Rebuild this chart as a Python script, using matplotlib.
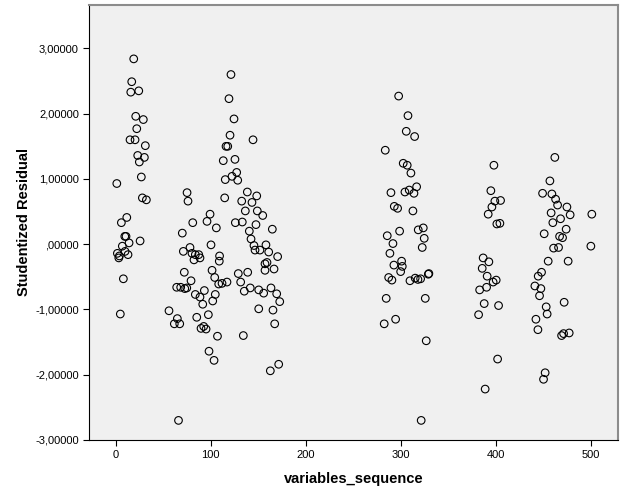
import matplotlib
matplotlib.use("Agg")
import matplotlib.pyplot as plt
from matplotlib.ticker import FuncFormatter

# sequence number of each variable and its studentized residual
seq_a = [18.9, 16.8, 15.8, 24.2, 21.0, 29.0, 22.1, 15.0, 20.3, 31.1, 23.1, 30.1,
         24.8, 26.9, 1.1, 28.0, 32.2, 11.6, 5.9, 9.5, 10.8, 25.6, 6.9, 14.0,
         1.7, 3.8, 3.2, 9.8, 12.9, 8.0, 4.8]
res_a = [2.84, 2.49, 2.33, 2.35, 1.96, 1.91, 1.77, 1.60, 1.60, 1.51, 1.36, 1.33,
         1.26, 1.03, 0.93, 0.71, 0.68, 0.41, 0.33, 0.12, 0.12, 0.05, -0.03, 0.02,
         -0.14, -0.18, -0.21, -0.11, -0.16, -0.53, -1.07]

seq_b = [75.0, 76.0, 99.2, 96.0, 105.8, 81.0, 70.0, 100.2, 78.1, 71.1, 80.2, 83.7,
         87.3, 82.3, 88.6, 109.2, 108.9, 72.1, 79.2, 101.3, 104.1, 108.3, 64.1, 68.3,
         72.6, 74.7, 83.7, 88.6, 93.2, 91.5, 104.7, 102.0, 56.0, 64.8, 61.6, 67.3,
         85.2, 97.4, 89.7, 92.5, 95.0, 107.0, 98.1, 103.4, 66.0,
         121.2, 119.1, 124.4, 120.2, 116.0, 117.8, 144.4, 113.1, 125.4, 127.2, 122.3,
         115.2, 128.3, 114.6, 138.4, 148.3, 132.5, 143.3, 136.3, 148.9, 154.6, 125.8,
         133.1, 147.5, 164.7, 140.5, 142.3, 145.4, 146.5, 151.7, 158.0, 160.9, 170.3,
         128.9, 138.8, 131.4, 157.0, 159.1, 157.0, 166.5, 111.8, 117.0, 135.2, 141.5,
         150.4, 155.6, 163.3, 169.3, 172.5, 134.2, 150.4, 165.4, 167.2, 162.6, 171.4]
res_b = [0.79, 0.66, 0.46, 0.35, 0.25, 0.33, 0.17, -0.01, -0.05, -0.11, -0.14, -0.16,
         -0.16, -0.24, -0.21, -0.18, -0.26, -0.43, -0.56, -0.40, -0.51, -0.61, -0.66, -0.66,
         -0.68, -0.67, -0.77, -0.81, -0.71, -0.92, -0.77, -0.87, -1.02, -1.14, -1.22, -1.22,
         -1.12, -1.08, -1.29, -1.26, -1.30, -1.41, -1.64, -1.78, -2.70,
         2.60, 2.23, 1.92, 1.67, 1.50, 1.50, 1.60, 1.28, 1.30, 1.10, 1.04,
         0.99, 0.98, 0.71, 0.80, 0.74, 0.66, 0.64, 0.51, 0.51, 0.44, 0.33,
         0.34, 0.30, 0.23, 0.20, 0.08, -0.02, -0.09, -0.09, -0.01, -0.12, -0.19,
         -0.45, -0.43, -0.58, -0.30, -0.28, -0.40, -0.38, -0.60, -0.58, -0.72, -0.67,
         -0.70, -0.75, -0.67, -0.76, -0.88, -1.40, -0.99, -1.01, -1.22, -1.94, -1.84]

seq_c = [297.6, 307.4, 305.6, 314.4, 283.5, 302.4, 306.6, 310.5, 289.5, 304.2, 308.7,
         316.5, 313.7, 293.0, 296.5, 312.6, 298.6, 318.2, 323.5, 285.6, 291.6, 324.5,
         322.4, 288.4, 300.7, 301.4, 292.6, 299.7, 287.1, 290.5, 309.5, 315.0, 317.9,
         320.7, 328.8, 329.4, 284.5, 325.6, 282.4, 294.4, 326.6, 321.3]
res_c = [2.27, 1.97, 1.73, 1.65, 1.44, 1.24, 1.21, 1.09, 0.79, 0.80, 0.83,
         0.88, 0.78, 0.58, 0.55, 0.51, 0.20, 0.22, 0.25, 0.13, 0.01, 0.09,
         -0.05, -0.14, -0.26, -0.34, -0.32, -0.42, -0.51, -0.55, -0.56, -0.52, -0.54,
         -0.53, -0.46, -0.45, -0.83, -0.83, -1.22, -1.15, -1.48, -2.70]

seq_d = [397.8, 394.6, 398.8, 404.8, 395.7, 391.8, 400.9, 404.1, 386.5, 392.5, 385.5,
         390.7, 397.0, 400.2, 382.8, 390.1, 387.6, 402.7, 381.7, 401.7, 388.6]
res_d = [1.21, 0.82, 0.66, 0.67, 0.57, 0.46, 0.31, 0.32, -0.21, -0.27, -0.37,
         -0.49, -0.58, -0.55, -0.70, -0.66, -0.91, -0.94, -1.08, -1.76, -2.22]

seq_e = [461.9, 456.7, 449.0, 458.8, 462.7, 464.8, 474.6, 478.0, 467.9, 458.0, 459.8,
         473.8, 450.7, 466.9, 470.0, 460.6, 465.8, 454.9, 475.9, 447.9, 444.4, 440.9,
         447.2, 445.8, 452.8, 453.8, 471.7, 442.0, 444.1, 469.0, 471.1, 477.0, 451.7,
         450.0, 500.8, 499.8]
res_e = [1.33, 0.97, 0.78, 0.77, 0.69, 0.60, 0.57, 0.45, 0.39, 0.48, 0.33,
         0.23, 0.16, 0.12, 0.10, -0.06, -0.05, -0.26, -0.26, -0.43, -0.49, -0.64,
         -0.68, -0.79, -0.96, -1.07, -0.89, -1.15, -1.31, -1.40, -1.37, -1.36, -1.97,
         -2.07, 0.46, -0.03]

seq = seq_a + seq_b + seq_c + seq_d + seq_e
res = res_a + res_b + res_c + res_d + res_e

plt.rcParams['font.family'] = ['Liberation Sans', 'DejaVu Sans']

fig = plt.figure(figsize=(6.26, 5.01), dpi=100)
ax = fig.add_axes([0.1427, 0.1218, 0.8443, 0.8688])
ax.set_facecolor('#f0f0f0')

ax.scatter(seq, res, s=30, facecolors='none', edgecolors='black', linewidths=0.8)

ax.set_xlim(-27.8, 528.2)
ax.set_ylim(-3.0, 3.67)
ax.set_xticks([0, 100, 200, 300, 400, 500])
ax.set_yticks([-3, -2, -1, 0, 1, 2, 3])

def fmt(v, pos):
    s = f"{v:.5f}".replace('.', ',')
    if s.startswith('0,'):
        s = s[1:]
    return s

ax.yaxis.set_major_formatter(FuncFormatter(fmt))
ax.tick_params(axis='both', labelsize=8, length=4, width=0.8, colors='black')

for side in ['top', 'right']:
    ax.spines[side].set_color('#8c8c8c')
    ax.spines[side].set_linewidth(1.5)
for side in ['left', 'bottom']:
    ax.spines[side].set_color('black')
    ax.spines[side].set_linewidth(0.8)

ax.set_xlabel('variables_sequence', fontsize=10.5, fontweight='bold', labelpad=8)
ax.set_ylabel('Studentized Residual', fontsize=10.5, fontweight='bold', labelpad=3)

fig.savefig('out.png', dpi=100)
